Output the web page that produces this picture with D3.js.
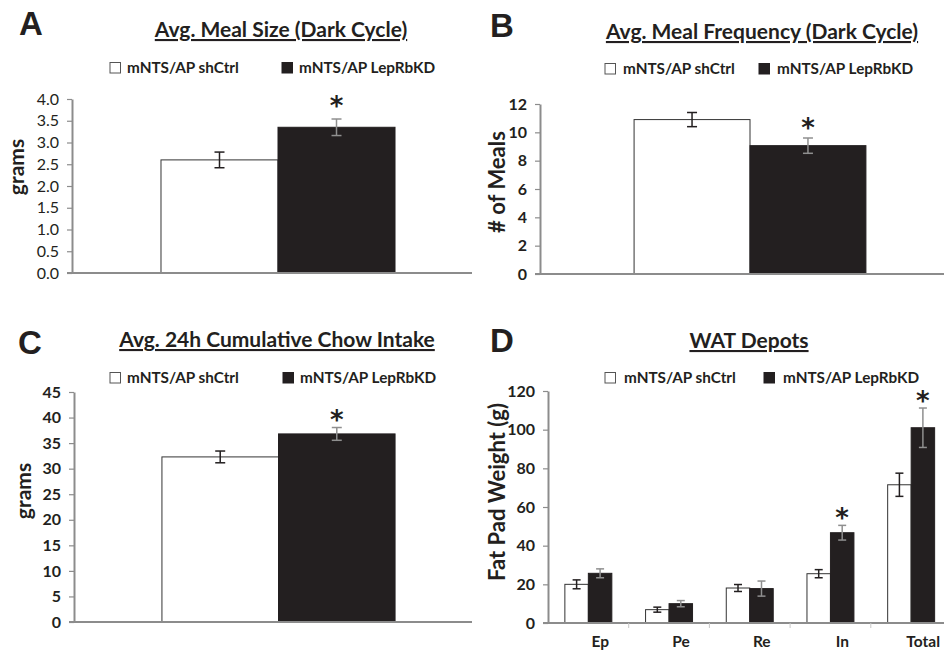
<!DOCTYPE html>
<html>
<head>
<meta charset="utf-8">
<script src="https://cdn.jsdelivr.net/npm/d3@7"></script>
<style>
  body { margin: 0; background: #fff; }
  svg text { font-family: Lato, "Open Sans", sans-serif; fill: #231f20; }
</style>
</head>
<body>
<script>
// Data
const seriesNames = ["mNTS/AP shCtrl", "mNTS/AP LepRbKD"];

const mealSizeMean = [2.6, 3.35];
const mealSizeErr = [0.18, 0.19];
const mealSizeStar = [false, true];

const mealFreqMean = [10.9, 9.06];
const mealFreqErr = [0.5, 0.54];
const mealFreqStar = [false, true];

const chowMean = [32.3, 36.8];
const chowErr = [1.15, 1.25];
const chowStar = [false, true];

const depots = ["Ep", "Pe", "Re", "In", "Total"];
const depotCtrl = [20.0, 6.9, 18.1, 25.5, 71.5];
const depotCtrlErr = [2.3, 1.3, 1.8, 2.1, 6.0];
const depotKD = [25.7, 10.0, 17.8, 46.7, 101.0];
const depotKDErr = [2.3, 1.6, 3.9, 3.8, 10.2];
const depotStar = [false, false, false, true, true];

const width = 944, height = 650;
const ink = "#231f20", axisGrey = "#8c8c8c", errGrey = "#8f8f8f";

const svg = d3.select("body").append("svg")
    .attr("width", width)
    .attr("height", height);

const drawPanel = (p) => {
    const g = svg.append("g");

    // Panel letter
    g.append("text")
        .attr("x", p.letterX).attr("y", p.letterY)
        .style("font-family", "'Liberation Sans', Arial, sans-serif")
        .style("font-weight", "bold").style("font-size", "33px")
        .text(p.letter);

    // Title
    g.append("text")
        .attr("x", p.titleX).attr("y", p.titleY)
        .attr("text-anchor", "middle")
        .style("font-weight", "bold").style("font-size", "21px")
        .style("text-decoration", "underline")
        .text(p.title);

    // Legend
    seriesNames.forEach((name, i) => {
        g.append("rect")
            .attr("x", p.legX[i]).attr("y", p.legY - 10.5)
            .attr("width", 10.5).attr("height", 10.5)
            .attr("fill", i === 0 ? "#fff" : ink)
            .attr("stroke", i === 0 ? "#555" : ink)
            .attr("stroke-width", 1);
        g.append("text")
            .attr("x", p.legX[i] + p.legGap).attr("y", p.legY)
            .style("font-weight", "bold").style("font-size", "15.3px")
            .text(name);
    });

    // Scales
    const y = d3.scaleLinear().domain([0, p.yMax]).range([p.y0, p.y1]);
    const x0 = d3.scaleBand().domain(p.groups).range(p.xRange)
        .paddingInner(p.pad).paddingOuter(p.pad / 2);
    const x1 = d3.scaleBand().domain([0, 1]).range([0, x0.bandwidth()]);

    // Y axis
    const yAxis = d3.axisLeft(y)
        .tickValues(d3.range(0, p.yMax + p.yStep / 2, p.yStep))
        .tickFormat(d3.format(p.fmt))
        .tickSize(5).tickSizeOuter(0).tickPadding(8);
    const ya = g.append("g")
        .attr("transform", `translate(${p.axisX},0)`)
        .call(yAxis);
    ya.select(".domain").attr("stroke", axisGrey).attr("stroke-width", 2);
    ya.selectAll(".tick line").attr("stroke", axisGrey).attr("stroke-width", 1.2);
    ya.selectAll(".tick text")
        .style("font-family", "Lato, sans-serif")
        .style("font-size", "16px")
        .style("font-weight", p.tickBold ? "bold" : "normal")
        .attr("fill", ink);

    // Y label
    g.append("text")
        .attr("transform", `translate(${p.yLabX},${p.yLabY}) rotate(-90)`)
        .attr("text-anchor", "middle")
        .attr("dy", "0.35em")
        .style("font-weight", "bold").style("font-size", p.yLabSize)
        .text(p.yLabel);

    // Bars
    const rows = [];
    p.groups.forEach((grp, gi) => {
        p.means.forEach((m, si) => {
            rows.push({ grp, si, v: m[gi], e: p.errs[si][gi], star: si === 1 && p.stars[gi] });
        });
    });

    const bars = g.append("g").selectAll("g").data(rows).join("g")
        .attr("transform", d => `translate(${x0(d.grp) + x1(d.si)},0)`);

    bars.append("rect")
        .attr("x", 0).attr("width", x1.bandwidth())
        .attr("y", d => y(d.v))
        .attr("height", d => y(0) - y(d.v))
        .attr("fill", d => d.si === 0 ? "#fff" : ink)
        .attr("stroke", d => d.si === 0 ? "#333" : ink)
        .attr("stroke-width", 1);

    // Error bars
    const cap = p.cap;
    const eb = bars.append("g")
        .attr("stroke", d => d.si === 0 ? ink : errGrey)
        .attr("stroke-width", 1.5);
    eb.append("line")
        .attr("x1", x1.bandwidth() / 2).attr("x2", x1.bandwidth() / 2)
        .attr("y1", d => y(d.v + d.e)).attr("y2", d => y(d.v - d.e));
    eb.append("line")
        .attr("x1", x1.bandwidth() / 2 - cap).attr("x2", x1.bandwidth() / 2 + cap)
        .attr("y1", d => y(d.v + d.e)).attr("y2", d => y(d.v + d.e));
    eb.append("line")
        .attr("x1", x1.bandwidth() / 2 - cap).attr("x2", x1.bandwidth() / 2 + cap)
        .attr("y1", d => y(d.v - d.e)).attr("y2", d => y(d.v - d.e));

    // Significance
    bars.filter(d => d.star).append("text")
        .attr("x", x1.bandwidth() / 2)
        .attr("y", d => y(d.v + d.e) - p.starGap)
        .attr("text-anchor", "middle")
        .style("font-family", "'DejaVu Sans', sans-serif")
        .style("font-weight", "bold").style("font-size", "26px")
        .text("*");

    // X axis baseline
    g.append("line")
        .attr("x1", p.axisX - 5).attr("x2", p.xEnd)
        .attr("y1", y(0)).attr("y2", y(0))
        .attr("stroke", axisGrey).attr("stroke-width", 2);

    if (p.catLabels) {
        const step = x0.step();
        p.groups.forEach((grp, gi) => {
            g.append("line")
                .attr("x1", p.xRange[0] + step * (gi + 1)).attr("x2", p.xRange[0] + step * (gi + 1))
                .attr("y1", y(0)).attr("y2", y(0) + 5)
                .attr("stroke", "#c8c8c8").attr("stroke-width", 1);
            g.append("text")
                .attr("x", x0(grp) + x0.bandwidth() / 2 + 12)
                .attr("y", y(0) + 24)
                .attr("text-anchor", "middle")
                .style("font-weight", "bold").style("font-size", "15.5px")
                .text(grp);
        });
    }
};

// A
drawPanel({
    letter: "A", letterX: 19, letterY: 35,
    title: "Avg. Meal Size (Dark Cycle)", titleX: 281, titleY: 37,
    legX: [110, 282], legY: 73, legGap: 17,
    yMax: 4, yStep: 0.5, fmt: ".1f", y0: 273, y1: 99, tickBold: false,
    axisX: 72, xEnd: 472, xRange: [72, 484], pad: 0.432,
    groups: ["Dark"], means: [[mealSizeMean[0]], [mealSizeMean[1]]],
    errs: [[mealSizeErr[0]], [mealSizeErr[1]]], stars: [mealSizeStar[1]],
    yLabel: "grams", yLabX: 17, yLabY: 167, yLabSize: "21px",
    cap: 5, starGap: 4
});

// B
drawPanel({
    letter: "B", letterX: 490, letterY: 37,
    title: "Avg. Meal Frequency (Dark Cycle)", titleX: 762, titleY: 39,
    legX: [605, 759], legY: 74, legGap: 18,
    yMax: 12, yStep: 2, fmt: "d", y0: 274, y1: 104, tickBold: true,
    axisX: 540, xEnd: 944, xRange: [540, 960], pad: 0.448,
    groups: ["Dark"], means: [[mealFreqMean[0]], [mealFreqMean[1]]],
    errs: [[mealFreqErr[0]], [mealFreqErr[1]]], stars: [mealFreqStar[1]],
    yLabel: "# of Meals", yLabX: 497, yLabY: 182, yLabSize: "22px",
    cap: 5, starGap: 1
});

// C
drawPanel({
    letter: "C", letterX: 18, letterY: 354,
    title: "Avg. 24h Cumulative Chow Intake", titleX: 277, titleY: 347,
    legX: [110, 283], legY: 383, legGap: 17,
    yMax: 45, yStep: 5, fmt: "d", y0: 622, y1: 392, tickBold: true,
    axisX: 74, xEnd: 472, xRange: [74, 483], pad: 0.43,
    groups: ["Day"], means: [[chowMean[0]], [chowMean[1]]],
    errs: [[chowErr[0]], [chowErr[1]]], stars: [chowStar[1]],
    yLabel: "grams", yLabX: 24, yLabY: 491, yLabSize: "21px",
    cap: 5, starGap: -1
});

// D
drawPanel({
    letter: "D", letterX: 490, letterY: 352,
    title: "WAT Depots", titleX: 749, titleY: 348,
    legX: [605, 764], legY: 383, legGap: 19,
    yMax: 120, yStep: 20, fmt: "d", y0: 623, y1: 391, tickBold: true,
    axisX: 548, xEnd: 944, xRange: [548, 951.5], pad: 0.418,
    groups: depots, means: [depotCtrl, depotKD],
    errs: [depotCtrlErr, depotKDErr], stars: depotStar,
    yLabel: "Fat Pad Weight (g)", yLabX: 497, yLabY: 492, yLabSize: "22px",
    cap: 4, starGap: -2, catLabels: true
});
</script>
</body>
</html>
